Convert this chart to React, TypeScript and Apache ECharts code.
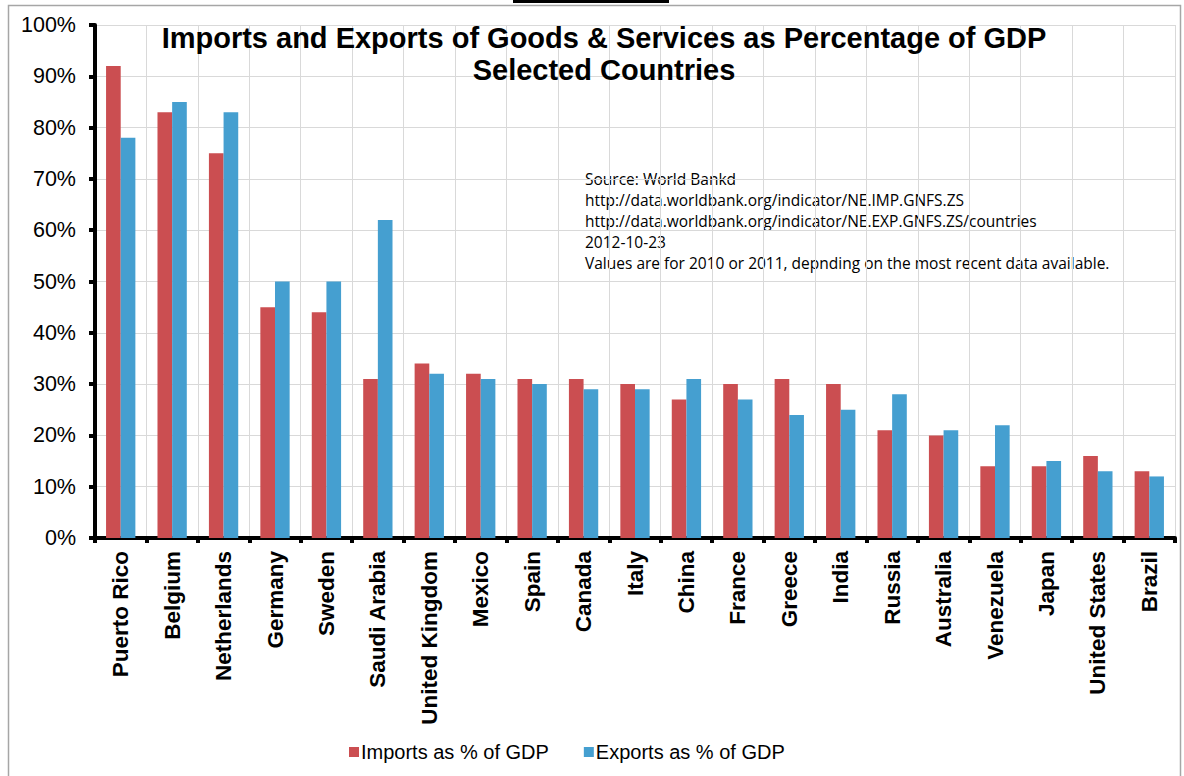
import React, { useEffect, useRef } from "react";
import * as echarts from "echarts";

const countries = ["Puerto Rico", "Belgium", "Netherlands", "Germany", "Sweden", "Saudi Arabia", "United Kingdom", "Mexico", "Spain", "Canada", "Italy", "China", "France", "Greece", "India", "Russia", "Australia", "Venezuela", "Japan", "United States", "Brazil"];
const imports = [92, 83, 75, 45, 44, 31, 34, 32, 31, 31, 30, 27, 30, 31, 30, 21, 20, 14, 14, 16, 13];
const exportsVals = [78, 85, 83, 50, 50, 62, 32, 31, 30, 29, 29, 31, 27, 24, 25, 28, 21, 22, 15, 13, 12];
const titleLines = ["Imports and Exports of Goods & Services as Percentage of GDP", "Selected Countries"];
const sourceLines = [
  "Source: World Bankd",
  "http://data.worldbank.org/indicator/NE.IMP.GNFS.ZS",
  "http://data.worldbank.org/indicator/NE.EXP.GNFS.ZS/countries",
  "2012-10-23",
  "Values are for 2010 or 2011, depnding on the most recent data available.",
];
const seriesNames = ["Imports as % of GDP", "Exports as % of GDP"];

export default function App() {
  const ref = useRef<HTMLDivElement>(null);
  useEffect(() => {
    if (!ref.current) return;
    const chart = echarts.init(ref.current, null, { renderer: "svg" });
    const font = "'Liberation Sans', Arial, sans-serif";
    chart.setOption({
      animation: false,
      backgroundColor: "#fff",
      title: {
        text: titleLines.join("\n"),
        left: 599,
        textAlign: "center",
        top: 17,
        textStyle: { fontFamily: font, fontWeight: "bold", fontSize: 29, color: "#000", lineHeight: 32 },
      },
      legend: {
        bottom: 9,
        left: 344,
        itemWidth: 10,
        itemHeight: 10,
        itemGap: 35,
        icon: "rect",
        textStyle: { fontFamily: font, fontSize: 20, color: "#000", padding: [0, 0, 0, -3] },
        data: seriesNames,
      },
      grid: { left: 95, right: 9, top: 25, bottom: 238, containLabel: false },
      xAxis: {
        type: "category",
        data: countries,
        axisLine: { lineStyle: { color: "#000", width: 4 } },
        axisTick: { show: true, length: 5, lineStyle: { color: "#000", width: 4 }, alignWithLabel: false },
        axisLabel: { rotate: 90, fontFamily: font, fontWeight: "bold", fontSize: 22.5, color: "#000", margin: 13, interval: 0 },
        splitLine: { show: true, lineStyle: { color: "#d9d9d9", width: 1 } },
      },
      yAxis: {
        type: "value",
        min: 0,
        max: 100,
        interval: 10,
        axisLine: { show: true, lineStyle: { color: "#000", width: 4 } },
        axisTick: { show: true, length: 6, lineStyle: { color: "#000", width: 4 } },
        axisLabel: { formatter: "{value}%", fontFamily: font, fontSize: 21.5, color: "#000", margin: 19 },
        splitLine: { show: true, lineStyle: { color: "#d9d9d9", width: 1 } },
      },
      series: [
        {
          name: seriesNames[0],
          type: "bar",
          data: imports,
          barGap: "0%",
          barCategoryGap: "43%",
          itemStyle: { color: "#cb4e51" },
        },
        {
          name: seriesNames[1],
          type: "bar",
          data: exportsVals,
          barGap: "0%",
          barCategoryGap: "43%",
          itemStyle: { color: "#459fd0" },
        },
      ],
      graphic: [
        {
          type: "rect",
          shape: { x: 8.5, y: 5.5, width: 1172, height: 780 },
          style: { fill: "none", stroke: "#a6a6a6", lineWidth: 1.5 },
          silent: true,
        },
        {
          type: "rect",
          shape: { x: 513, y: 0, width: 156, height: 3 },
          style: { fill: "#000" },
          silent: true,
        },
        {
          type: "text",
          left: 585,
          top: 168,
          style: {
            text: sourceLines.join("\n"),
            fontFamily: "'Open Sans', 'DejaVu Sans', sans-serif",
            fontSize: 15.5,
            lineHeight: 21.2,
            fill: "#000",
          },
        },
      ],
    });
    return () => chart.dispose();
  }, []);
  return <div ref={ref} style={{ position: "absolute", left: 0, top: 0, width: 1184, height: 776 }} />;
}
